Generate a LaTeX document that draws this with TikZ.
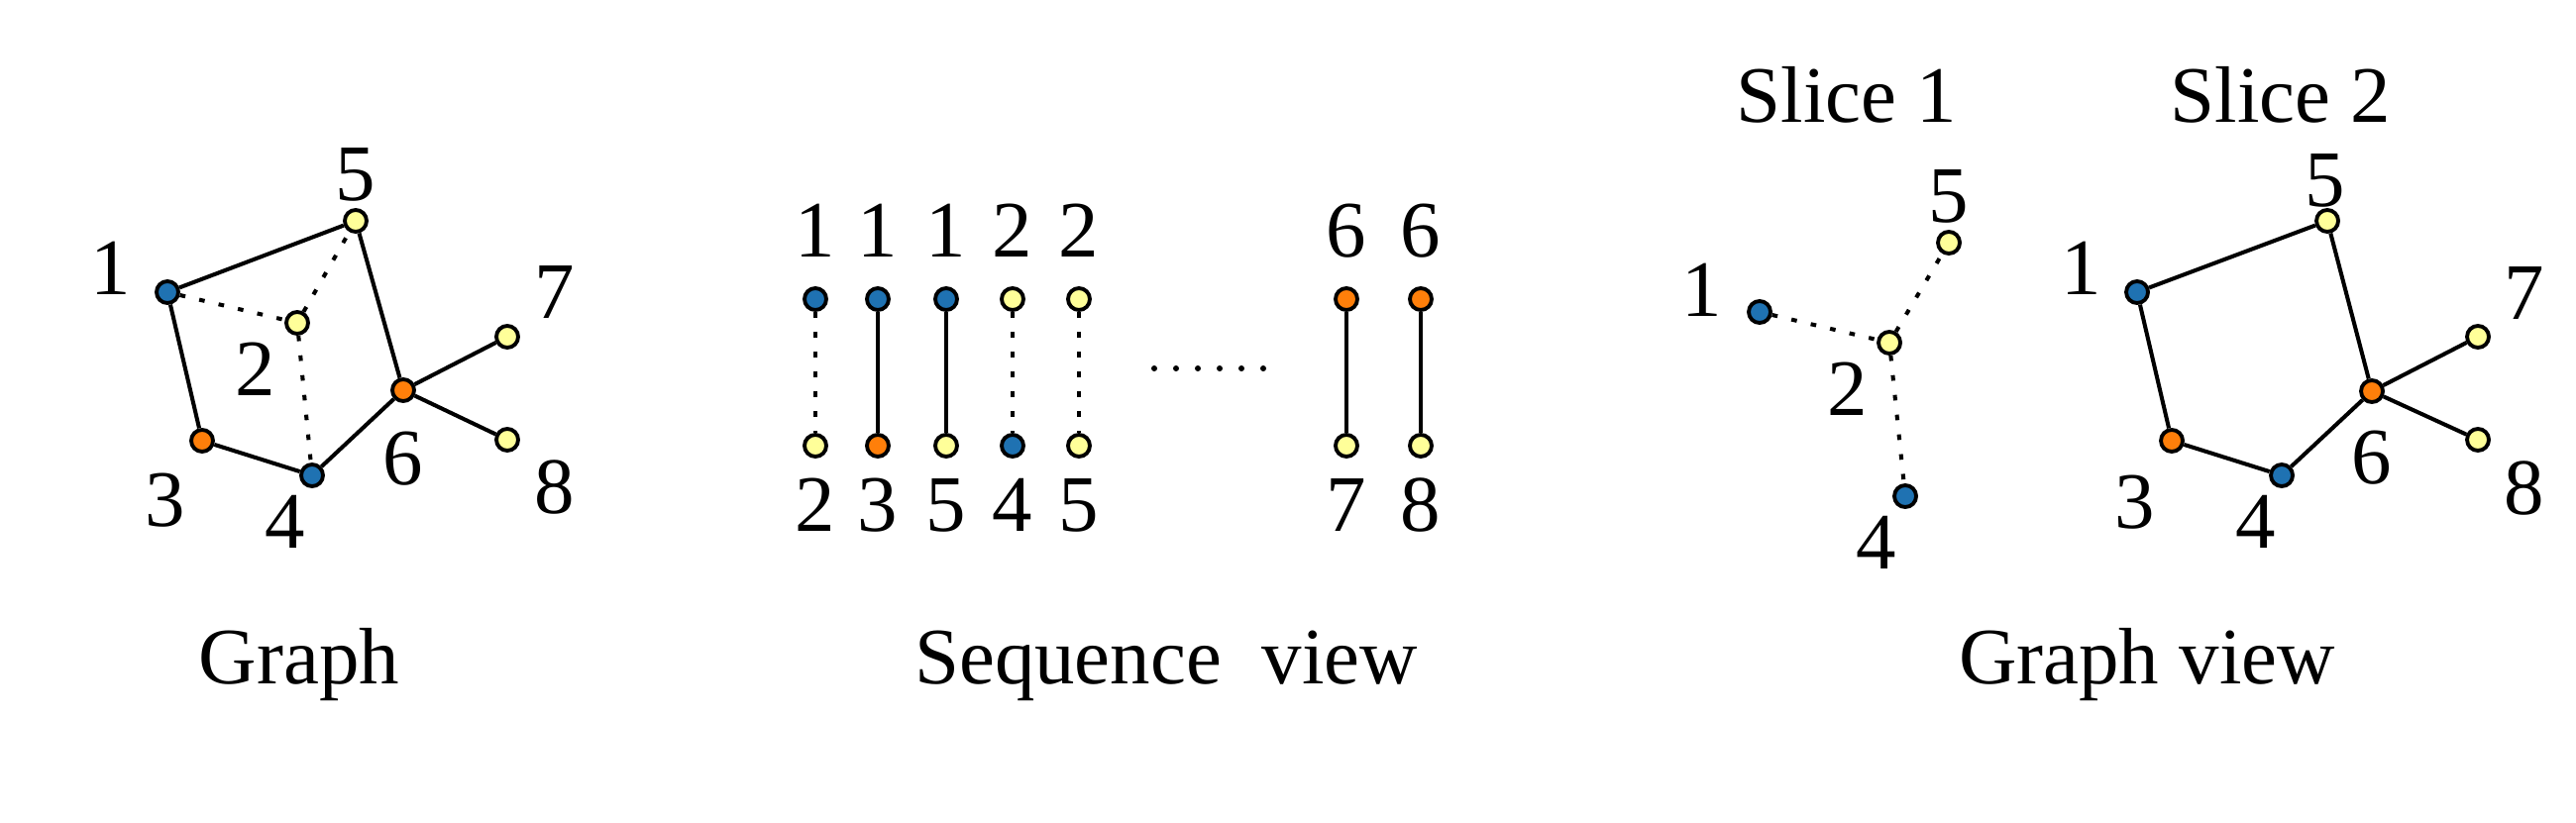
\documentclass[tikz,border=0pt]{standalone}
\usepackage{fontspec}
\setmainfont{Liberation Serif}
\definecolor{nblue}{HTML}{1F72B2}
\definecolor{norange}{HTML}{FF7F0A}
\definecolor{nyellow}{HTML}{FFFF99}
\tikzset{
  vtx/.style={circle,draw=black,line width=1.1pt,inner sep=0pt,minimum size=0.22cm},
  vb/.style={vtx,fill=nblue},
  vo/.style={vtx,fill=norange},
  vy/.style={vtx,fill=nyellow},
  lbl/.style={inner sep=0pt,font=\fontsize{23}{27}\selectfont},
  ttl/.style={inner sep=0pt,anchor=base,font=\fontsize{23}{27}\selectfont},
  solidedge/.style={line width=1.15pt},
  dotedge/.style={line width=1.15pt,dash pattern=on 1.6pt off 4.1pt},
  seqdot/.style={circle,fill=black,inner sep=0pt,minimum size=0.06cm}
}
\begin{document}
\begin{tikzpicture}[x=0.01cm,y=-0.01cm]
\useasboundingbox (0,0) rectangle (2600,830);
% ---------- Graph ----------
\node[vb] (a1) at (169,295) {};
\node[vy] (a2) at (300,326) {};
\node[vo] (a3) at (204,445) {};
\node[vb] (a4) at (315,480) {};
\node[vy] (a5) at (359,223) {};
\node[vo] (a6) at (407,394) {};
\node[vy] (a7) at (512,340) {};
\node[vy] (a8) at (512,444) {};
\draw[solidedge] (a1) -- (a5);
\draw[solidedge] (a5) -- (a6);
\draw[solidedge] (a1) -- (a3);
\draw[solidedge] (a3) -- (a4);
\draw[solidedge] (a4) -- (a6);
\draw[solidedge] (a6) -- (a7);
\draw[solidedge] (a6) -- (a8);
\draw[dotedge] (a1) -- (a2);
\draw[dotedge] (a2) -- (a5);
\draw[dotedge] (a2) -- (a4);
\node[lbl] (la1) at (112,271) {1};
\node[lbl] (la2) at (258,373) {2};
\node[lbl] (la3) at (167,505) {3};
\node[lbl] (la4) at (288,527) {4};
\node[lbl] (la5) at (359,176) {5};
\node[lbl] (la6) at (407,463) {6};
\node[lbl] (la7) at (560,295) {7};
\node[lbl] (la8) at (560,492) {8};
\node[ttl] (ta) at (302,690) {Graph};
% ---------- Sequence view ----------
\node[vb] (s1t) at (823,302) {};
\node[vy] (s1b) at (823,450) {};
\node[vb] (s2t) at (886,302) {};
\node[vo] (s2b) at (886,450) {};
\node[vb] (s3t) at (955,302) {};
\node[vy] (s3b) at (955,450) {};
\node[vy] (s4t) at (1022,302) {};
\node[vb] (s4b) at (1022,450) {};
\node[vy] (s5t) at (1089,302) {};
\node[vy] (s5b) at (1089,450) {};
\node[vo] (s6t) at (1359,302) {};
\node[vy] (s6b) at (1359,450) {};
\node[vo] (s7t) at (1434,302) {};
\node[vy] (s7b) at (1434,450) {};
\draw[dotedge] (s1t) -- (s1b);
\draw[solidedge] (s2t) -- (s2b);
\draw[solidedge] (s3t) -- (s3b);
\draw[dotedge] (s4t) -- (s4b);
\draw[dotedge] (s5t) -- (s5b);
\draw[solidedge] (s6t) -- (s6b);
\draw[solidedge] (s7t) -- (s7b);
\node[lbl] (ls1t) at (823,233) {1};
\node[lbl] (ls2t) at (886,233) {1};
\node[lbl] (ls3t) at (955,233) {1};
\node[lbl] (ls4t) at (1022,233) {2};
\node[lbl] (ls5t) at (1089,233) {2};
\node[lbl] (ls6t) at (1359,233) {6};
\node[lbl] (ls7t) at (1434,233) {6};
\node[lbl] (ls1b) at (823,510) {2};
\node[lbl] (ls2b) at (886,510) {3};
\node[lbl] (ls3b) at (955,510) {5};
\node[lbl] (ls4b) at (1022,510) {4};
\node[lbl] (ls5b) at (1089,510) {5};
\node[lbl] (ls6b) at (1359,510) {7};
\node[lbl] (ls7b) at (1434,510) {8};
\foreach \i/\xx in {1/1165,2/1187,3/1209,4/1231,5/1253,6/1275}
  \node[seqdot] (sd\i) at (\xx,372) {};
\node[ttl] (ts) at (1177,690) {Sequence\ \ view};
% ---------- Slice 1 ----------
\node[vb] (b1) at (1776,315) {};
\node[vy] (b2) at (1907,346) {};
\node[vy] (b5) at (1967,245) {};
\node[vb] (b4) at (1923,501) {};
\draw[dotedge] (b1) -- (b2);
\draw[dotedge] (b2) -- (b5);
\draw[dotedge] (b2) -- (b4);
\node[lbl] (lb1) at (1718,293) {1};
\node[lbl] (lb5) at (1967,198) {5};
\node[lbl] (lb2) at (1865,393) {2};
\node[lbl] (lb4) at (1894,548) {4};
\node[ttl] (tb) at (1864,123) {Slice 1};
% ---------- Slice 2 ----------
\node[vb] (c1) at (2157,295) {};
\node[vy] (c5) at (2349,223) {};
\node[vo] (c6) at (2394,395) {};
\node[vo] (c3) at (2192,445) {};
\node[vb] (c4) at (2303,480) {};
\node[vy] (c7) at (2501,340) {};
\node[vy] (c8) at (2501,444) {};
\draw[solidedge] (c1) -- (c5);
\draw[solidedge] (c5) -- (c6);
\draw[solidedge] (c1) -- (c3);
\draw[solidedge] (c3) -- (c4);
\draw[solidedge] (c4) -- (c6);
\draw[solidedge] (c6) -- (c7);
\draw[solidedge] (c6) -- (c8);
\node[lbl] (lc1) at (2101,271) {1};
\node[lbl] (lc5) at (2347,182) {5};
\node[lbl] (lc7) at (2548,296) {7};
\node[lbl] (lc6) at (2394,462) {6};
\node[lbl] (lc3) at (2155,507) {3};
\node[lbl] (lc4) at (2277,527) {4};
\node[lbl] (lc8) at (2548,493) {8};
\node[ttl] (tc) at (2302,123) {Slice 2};
\node[ttl] (tg) at (2167,690) {Graph view};
\end{tikzpicture}
\end{document}
